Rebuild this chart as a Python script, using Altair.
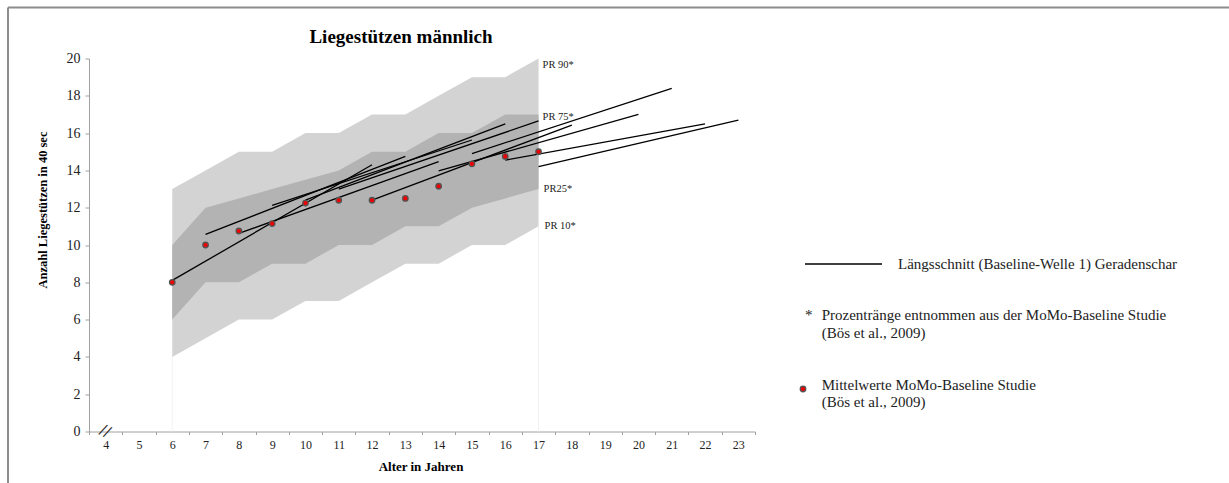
import altair as alt
import pandas as pd

# Percentile bands (MoMo baseline), ages 6-17
AGES = list(range(6, 18))
PR10 = [4, 5, 6, 6, 7, 7, 8, 9, 9, 10, 10, 11]
PR25 = [6, 8, 8, 9, 9, 10, 10, 11, 11, 12, 12.5, 13]
PR75 = [10, 12, 12.5, 13, 13.5, 14, 15, 15, 16, 16, 17, 17]
PR90 = [13, 14, 15, 15, 16, 16, 17, 17, 18, 19, 19, 20]

# Mean values of the baseline study
MEANS = [8.0, 10.0, 10.75, 11.15, 12.25, 12.4, 12.4, 12.5, 13.15, 14.35, 14.75, 15.0]

# Longitudinal lines: baseline age, value at baseline, value at wave 1
COHORT_START = [6, 7, 8, 9, 10, 11, 12, 14, 15, 16, 17]
COHORT_FROM = [8.1, 10.57, 10.62, 12.13, 12.41, 13.0, 12.41, 13.97, 14.9, 14.55, 14.2]
COHORT_TO = [14.3, 14.75, 14.47, 15.63, 16.5, 16.65, 16.43, 17.0, 18.4, 16.5, 16.7]
FOLLOW_UP_YEARS = 6

X_TICKS = [a + 0.5 for a in range(3, 24)]
Y_TICKS = list(range(0, 21, 2))

SERIF = "Liberation Serif"
W, H = 666, 373

bands = pd.DataFrame({"age": AGES, "p10": PR10, "p25": PR25, "p75": PR75, "p90": PR90})
means = pd.DataFrame({"age": AGES, "mean": MEANS})
rows = []
for i, (s, v0, v1) in enumerate(zip(COHORT_START, COHORT_FROM, COHORT_TO)):
    rows.append({"cohort": i, "age": s, "value": v0})
    rows.append({"cohort": i, "age": s + FOLLOW_UP_YEARS, "value": v1})
cohorts = pd.DataFrame(rows)

x_scale = alt.Scale(domain=[3.5, 23.5], nice=False, zero=False)
y_scale = alt.Scale(domain=[0, 20], nice=False, zero=True)

x_axis = alt.Axis(
    values=X_TICKS, title=None, grid=False,
    labelExpr="datum.value < 23 ? format(datum.value + 0.5, 'd') : ''",
    labelOffset=W / 40, labelFlush=False, labelOverlap=False,
    tickSize=3, tickColor="#a0a0a0", domainColor="#a0a0a0",
    labelFont=SERIF, labelFontSize=12, labelColor="#222222", labelPadding=5,
)
y_axis = alt.Axis(
    values=Y_TICKS, title=None, grid=False,
    tickSize=4, tickColor="#a0a0a0", domainColor="#a0a0a0",
    labelFont=SERIF, labelFontSize=14, labelColor="#222222", labelPadding=5,
)


def X(field):
    return alt.X(field, type="quantitative", scale=x_scale, axis=x_axis)


def Y(field):
    return alt.Y(field, type="quantitative", scale=y_scale, axis=y_axis)


outer = alt.Chart(bands).mark_area(color="#d3d3d3", opacity=1).encode(
    x=X("age"), y=Y("p10"), y2="p90"
)
inner = alt.Chart(bands).mark_area(color="#b3b3b3", opacity=1).encode(
    x=X("age"), y=Y("p25"), y2="p75"
)
edges = alt.Chart(bands).transform_filter(
    "datum.age == 6 || datum.age == 17"
).transform_calculate(zero="0").mark_rule(color="#f2f2f2", strokeWidth=1).encode(
    x=X("age"), y=alt.Y("zero:Q", scale=y_scale, axis=y_axis), y2="p10"
)

lines = alt.Chart(cohorts).mark_line(color="black", strokeWidth=1.3).encode(
    x=X("age"), y=Y("value"), detail="cohort:N"
)
dots = alt.Chart(means).mark_point(
    shape="circle", filled=True, fill="#f00000", stroke="#555555",
    strokeWidth=1.3, size=30, opacity=1
).encode(x=X("age"), y=Y("mean"))

# Percentile labels at the right end of the bands
pr_labels = []
for text, col, dy, dx in [("PR 90*", PR90, 6, 4), ("PR 75*", PR75, 3, 4),
                          ("PR25*", PR25, 0, 5), ("PR 10*", PR10, 0, 6)]:
    df = pd.DataFrame({"age": [AGES[-1]], "value": [col[-1]], "t": [text]})
    pr_labels.append(
        alt.Chart(df).mark_text(
            align="left", baseline="middle", dx=dx, dy=dy,
            font=SERIF, fontSize=10.5, color="#222222"
        ).encode(x=X("age"), y=Y("value"), text="t:N")
    )

# Axis break marker on the x axis
axis_break = alt.Chart(pd.DataFrame({"age": [3.98], "value": [0]})).mark_text(
    text="//", font="DejaVu Sans", fontSize=15, color="#333333",
    align="center", baseline="middle", angle=25, dy=-1
).encode(x=X("age"), y=Y("value"))

one = alt.Data(values=[{"k": 1}])


def label(text, x, y, size=15, weight="normal", align="left", angle=0, color="#222222"):
    return alt.Chart(one).mark_text(
        text=text, font=SERIF, fontSize=size, fontWeight=weight,
        align=align, baseline="middle", angle=angle, color=color
    ).encode(x=alt.value(x), y=alt.value(y))


title = label("Liegestützen männlich", 312, -21.5, size=19, weight="bold", align="center", color="black")
y_title = label("Anzahl Liegestützen in 40 sec", -46, 151.5, size=12.5, weight="bold",
                align="center", angle=270, color="black")
x_title = label("Alter in Jahren", 332, 408.5, size=13, weight="bold", align="center", color="black")

legend_line = alt.Chart(one).mark_rule(color="black", strokeWidth=1.3).encode(
    x=alt.value(716), x2=alt.value(793), y=alt.value(205.5)
)
legend_dot = alt.Chart(one).mark_point(
    shape="circle", filled=True, fill="#f00000", stroke="#555555",
    strokeWidth=1.3, size=30, opacity=1
).encode(x=alt.value(714), y=alt.value(330.5))
legend_texts = [
    label("Längsschnitt (Baseline-Welle 1) Geradenschar", 809, 205.5),
    label("*", 716, 256.5),
    label("Prozentränge entnommen aus der MoMo-Baseline Studie", 732.7, 256.5),
    label("(Bös et al., 2009)", 732.7, 274.5),
    label("Mittelwerte MoMo-Baseline Studie", 732.7, 326.5),
    label("(Bös et al., 2009)", 732.7, 343.5),
]

frame_top = alt.Chart(one).mark_rule(color="#8c8c8c", strokeWidth=2).encode(
    x=alt.value(-81), x2=alt.value(1140), y=alt.value(-51)
)
frame_left = alt.Chart(one).mark_rule(color="#8c8c8c", strokeWidth=2).encode(
    x=alt.value(-81), y=alt.value(-51), y2=alt.value(425)
)

chart = alt.layer(
    outer, inner, edges, lines, dots, *pr_labels, axis_break,
    title, y_title, x_title, legend_line, legend_dot, *legend_texts,
    frame_top, frame_left,
).properties(
    width=W, height=H,
    autosize=alt.AutoSizeParams(type="none"),
    padding={"left": 89, "top": 58.5, "right": 474, "bottom": 51.5},
    background="white",
).configure_view(stroke=None)

chart.save("out.html", embed_options={"renderer": "svg", "actions": False})
